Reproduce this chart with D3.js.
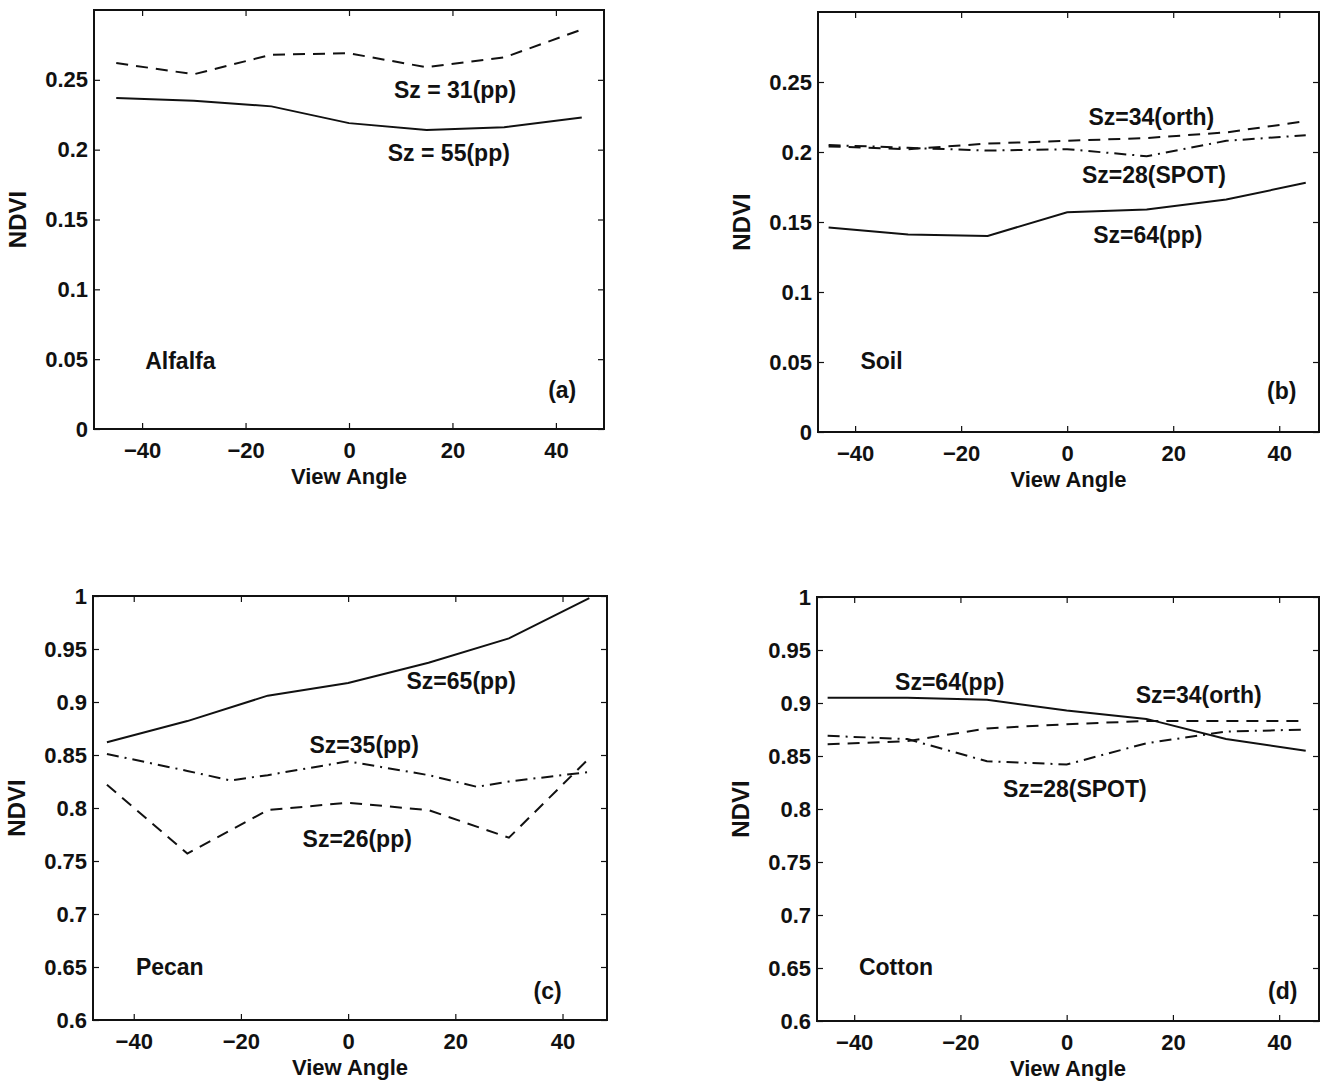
<!DOCTYPE html>
<html>
<head>
<meta charset="utf-8">
<script src="https://cdn.jsdelivr.net/npm/d3@7"></script>
<style>
  body { margin: 0; background: #fff; }
  svg text { font-family: 'Liberation Sans', Arial, sans-serif; font-weight: bold; fill: #111; }
</style>
</head>
<body>
<svg class="stage" width="1322" height="1081"></svg>
<script>
// view angles (deg)
var angles = [-45, -30, -15, 0, 15, 30, 45];
var pecanSz35Angles = [-45, -30, -22, -15, 0, 15, 24, 30, 45];

// (a) alfalfa
var alfalfaSz31 = [0.262, 0.254, 0.268, 0.269, 0.259, 0.266, 0.286];
var alfalfaSz55 = [0.237, 0.235, 0.231, 0.219, 0.214, 0.216, 0.223];

// (b) soil
var soilSz34 = [0.204, 0.202, 0.206, 0.208, 0.210, 0.214, 0.222];
var soilSz28 = [0.205, 0.203, 0.201, 0.202, 0.197, 0.208, 0.212];
var soilSz64 = [0.146, 0.141, 0.140, 0.157, 0.159, 0.166, 0.178];

// (c) pecan
var pecanSz65 = [0.862, 0.882, 0.906, 0.918, 0.937, 0.960, 0.998];
var pecanSz35 = [0.851, 0.835, 0.826, 0.831, 0.844, 0.831, 0.820, 0.825, 0.834];
var pecanSz26 = [0.822, 0.757, 0.798, 0.805, 0.798, 0.772, 0.847];

// (d) cotton
var cottonSz64 = [0.905, 0.905, 0.903, 0.893, 0.885, 0.866, 0.855];
var cottonSz34 = [0.861, 0.864, 0.876, 0.880, 0.883, 0.883, 0.883];
var cottonSz28 = [0.869, 0.866, 0.845, 0.842, 0.862, 0.873, 0.875];

var xTicks = [-40, -20, 0, 20, 40];
var lowTicks = [0, 0.05, 0.1, 0.15, 0.2, 0.25];
var highTicks = [0.6, 0.65, 0.7, 0.75, 0.8, 0.85, 0.9, 0.95, 1];

var dashes = { solid: null, dash: '12,8', dashdot: '12,6,2,6' };

var panels = [
  {
    box: [94, 10, 604, 429], xDomain: [-49.3, 49.3], yDomain: [0, 0.3], yTicks: lowTicks,
    series: [
      { x: angles, y: alfalfaSz31, style: 'dash' },
      { x: angles, y: alfalfaSz55, style: 'solid' }
    ],
    notes: [
      { text: 'Sz = 31(pp)', x: 8.7, y: 0.237 },
      { text: 'Sz = 55(pp)', x: 7.5, y: 0.192 },
      { text: 'Alfalfa', x: -39.4, y: 0.043 },
      { text: '(a)', x: 38.5, y: 0.022 }
    ]
  },
  {
    box: [818, 12, 1319, 432], xDomain: [-47, 47.5], yDomain: [0, 0.3], yTicks: lowTicks,
    series: [
      { x: angles, y: soilSz34, style: 'dash' },
      { x: angles, y: soilSz28, style: 'dashdot' },
      { x: angles, y: soilSz64, style: 'solid' }
    ],
    notes: [
      { text: 'Sz=34(orth)', x: 4.0, y: 0.219 },
      { text: 'Sz=28(SPOT)', x: 2.8, y: 0.178 },
      { text: 'Sz=64(pp)', x: 4.9, y: 0.135 },
      { text: 'Soil', x: -39, y: 0.045 },
      { text: '(b)', x: 37.7, y: 0.0236 }
    ]
  },
  {
    box: [93, 596, 607, 1020], xDomain: [-47.6, 48.3], yDomain: [0.6, 1], yTicks: highTicks,
    series: [
      { x: angles, y: pecanSz65, style: 'solid' },
      { x: pecanSz35Angles, y: pecanSz35, style: 'dashdot' },
      { x: angles, y: pecanSz26, style: 'dash' }
    ],
    notes: [
      { text: 'Sz=65(pp)', x: 10.9, y: 0.912 },
      { text: 'Sz=35(pp)', x: -7.2, y: 0.852 },
      { text: 'Sz=26(pp)', x: -8.5, y: 0.763 },
      { text: 'Pecan', x: -39.6, y: 0.642 },
      { text: '(c)', x: 34.6, y: 0.620 }
    ]
  },
  {
    box: [817, 597, 1319, 1021], xDomain: [-47, 47.5], yDomain: [0.6, 1], yTicks: highTicks,
    series: [
      { x: angles, y: cottonSz64, style: 'solid' },
      { x: angles, y: cottonSz34, style: 'dash' },
      { x: angles, y: cottonSz28, style: 'dashdot' }
    ],
    notes: [
      { text: 'Sz=64(pp)', x: -32.3, y: 0.912 },
      { text: 'Sz=34(orth)', x: 13.0, y: 0.900 },
      { text: 'Sz=28(SPOT)', x: -12.0, y: 0.811 },
      { text: 'Cotton', x: -39.1, y: 0.643 },
      { text: '(d)', x: 37.9, y: 0.621 }
    ]
  }
];

var svg = d3.select('svg.stage');

panels.forEach(function (p) {
  var x0 = p.box[0], y0 = p.box[1], x1 = p.box[2], y1 = p.box[3];
  var x = d3.scaleLinear().domain(p.xDomain).range([x0, x1]);
  var y = d3.scaleLinear().domain(p.yDomain).range([y1, y0]);
  var g = svg.append('g');

  // lines
  var line = d3.line()
    .x(function (d) { return x(d[0]); })
    .y(function (d) { return y(d[1]); });

  p.series.forEach(function (s) {
    var pts = s.x.map(function (a, i) { return [a, s.y[i]]; });
    g.append('path')
      .datum(pts)
      .attr('d', line)
      .attr('fill', 'none')
      .attr('stroke', '#111')
      .attr('stroke-width', 2)
      .attr('stroke-dasharray', dashes[s.style]);
  });

  // axes, ticks pointing inwards on all four sides
  var fmt = function (d) { return d3.format('~g')(d).replace('-', '\u2212'); };
  g.append('g')
    .attr('transform', 'translate(0,' + y1 + ')')
    .call(d3.axisBottom(x).tickValues(xTicks).tickSize(-6).tickPadding(13).tickFormat(fmt));
  g.append('g')
    .attr('transform', 'translate(0,' + y0 + ')')
    .call(d3.axisTop(x).tickValues(xTicks).tickSize(-6).tickFormat(''));
  g.append('g')
    .attr('transform', 'translate(' + x0 + ',0)')
    .call(d3.axisLeft(y).tickValues(p.yTicks).tickSize(-6).tickPadding(6).tickFormat(fmt));
  g.append('g')
    .attr('transform', 'translate(' + x1 + ',0)')
    .call(d3.axisRight(y).tickValues(p.yTicks).tickSize(-6).tickFormat(''));

  g.selectAll('.domain').remove();
  g.selectAll('.tick line').attr('stroke', '#111').attr('stroke-width', 1.2);
  g.selectAll('.tick text').style('font-size', '22px').attr('fill', '#111');

  g.append('rect')
    .attr('x', x0).attr('y', y0)
    .attr('width', x1 - x0).attr('height', y1 - y0)
    .attr('fill', 'none')
    .attr('stroke', '#111')
    .attr('stroke-width', 2);

  // axis titles
  g.append('text')
    .attr('x', (x0 + x1) / 2)
    .attr('y', y1 + 55)
    .attr('text-anchor', 'middle')
    .style('font-size', '22px')
    .text('View Angle');

  g.append('text')
    .attr('transform', 'translate(' + (x0 - 68) + ',' + ((y0 + y1) / 2) + ') rotate(-90)')
    .attr('text-anchor', 'middle')
    .style('font-size', '24px')
    .text('NDVI');

  // annotations
  p.notes.forEach(function (n) {
    g.append('text')
      .attr('x', x(n.x))
      .attr('y', y(n.y))
      .style('font-size', '23px')
      .text(n.text);
  });
});
</script>
</body>
</html>
